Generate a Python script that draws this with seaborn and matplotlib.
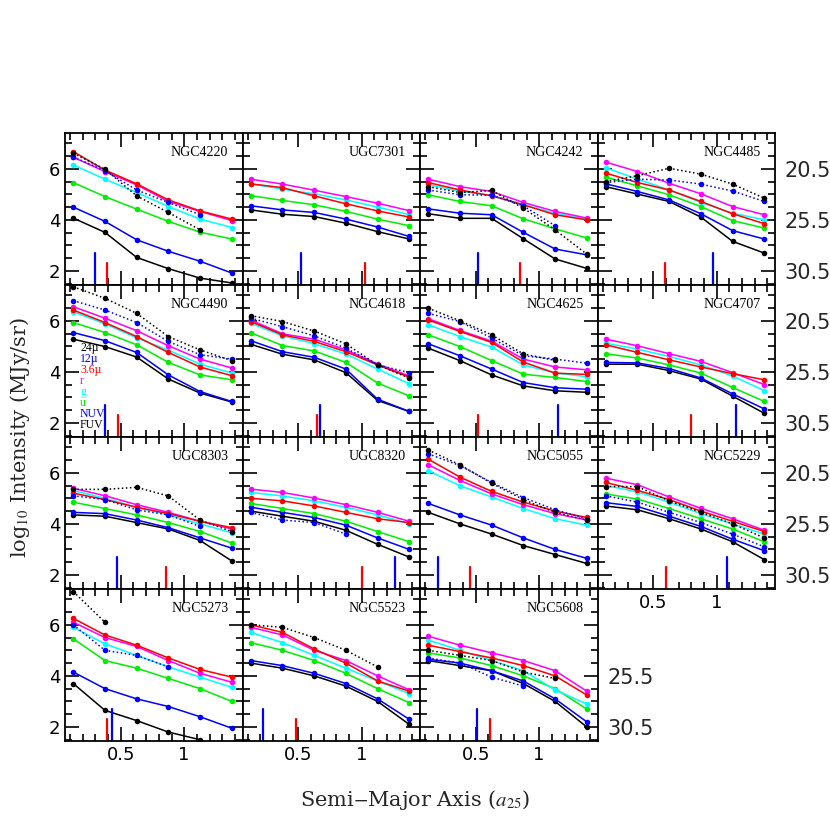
import numpy as np
import matplotlib
matplotlib.use("Agg")
import matplotlib.pyplot as plt
import seaborn as sns
import pandas as pd
from matplotlib.ticker import MultipleLocator

nan = np.nan

# radial bins (units of a25)
radii = [0.125, 0.375, 0.625, 0.875, 1.125, 1.375]

bands = ["24µ", "12µ", "3.6µ", "r", "g", "u", "NUV", "FUV"]
band_colors = ["black", "blue", "red", "magenta", "cyan", "#00ee00", "blue", "black"]
band_styles = [":", ":", "-", "-", "-", "-", "-", "-"]

galaxies = ["NGC4220", "UGC7301", "NGC4242", "NGC4485",
            "NGC4490", "NGC4618", "NGC4625", "NGC4707",
            "UGC8303", "UGC8320", "NGC5055", "NGC5229",
            "NGC5273", "NGC5523", "NGC5608"]

# profile rows follow the order of `bands`
ngc4220 = [[6.61, 5.98, 4.94, 4.29, 3.61, nan],
           [6.47, 5.92, 5.17, 4.68, 4.20, nan],
           [6.67, 5.95, 5.41, 4.78, 4.35, 4.03],
           [6.45, 5.89, 5.37, 4.72, 4.33, 3.97],
           [6.15, 5.59, 5.07, 4.52, 4.03, 3.70],
           [5.46, 4.91, 4.42, 3.94, 3.52, 3.25],
           [4.50, 3.94, 3.22, 2.77, 2.38, 1.92],
           [4.07, 3.51, 2.53, 2.09, 1.72, 1.53]]
ugc7301 = [[nan] * 6,
           [nan] * 6,
           [5.41, 5.26, 4.94, 4.63, 4.35, 4.11],
           [5.59, 5.40, 5.16, 4.91, 4.65, 4.36],
           [5.41, 5.20, 5.02, 4.78, 4.50, 4.20],
           [4.95, 4.76, 4.59, 4.33, 4.03, 3.77],
           [4.55, 4.39, 4.29, 4.03, 3.72, 3.35],
           [4.39, 4.22, 4.13, 3.87, 3.54, 3.25]]
ngc4242 = [[5.30, 5.07, 5.15, 4.46, 3.61, 2.66],
           [5.17, 4.98, 4.97, 4.55, 3.77, nan],
           [5.46, 5.17, 4.94, 4.59, 4.20, 4.00],
           [5.59, 5.30, 5.11, 4.68, 4.33, 4.07],
           [5.38, 5.12, 4.95, 4.60, 4.25, 4.02],
           [4.98, 4.72, 4.55, 4.04, 3.65, 3.29],
           [4.43, 4.26, 4.20, 3.51, 2.86, 2.63],
           [4.24, 4.06, 4.06, 3.26, 2.47, 2.10]]
ngc4485 = [[5.50, 5.73, 6.02, 5.79, 5.40, 4.85],
           [5.46, 5.59, 5.56, 5.40, 5.13, 4.72],
           [5.83, 5.46, 5.17, 4.72, 4.24, 3.85],
           [6.26, 5.89, 5.43, 5.02, 4.52, 4.20],
           [6.04, 5.59, 5.17, 4.68, 4.26, 4.00],
           [5.67, 5.33, 4.98, 4.52, 3.97, 3.68],
           [5.41, 5.11, 4.78, 4.24, 3.58, 3.25],
           [5.30, 5.01, 4.72, 4.11, 3.16, 2.70]]
ngc4490 = [[7.33, 6.88, 6.29, 5.38, 4.86, 4.44],
           [6.79, 6.42, 5.93, 5.19, 4.67, 4.50],
           [6.42, 5.93, 5.38, 4.76, 4.19, 3.85],
           [6.55, 6.10, 5.61, 5.02, 4.50, 4.15],
           [6.35, 5.88, 5.33, 4.85, 4.30, 3.95],
           [5.93, 5.54, 5.06, 4.37, 3.88, 3.69],
           [5.54, 5.22, 4.76, 3.88, 3.23, 2.84],
           [5.28, 4.99, 4.58, 3.72, 3.17, 2.82]]
ngc4618 = [[6.20, 5.97, 5.60, 5.10, 4.27, 3.76],
           [6.10, 5.77, 5.41, 4.93, 4.27, 3.97],
           [5.97, 5.45, 5.19, 4.79, 4.27, 3.79],
           [6.03, 5.49, 5.28, 4.86, 4.31, 3.84],
           [5.90, 5.41, 5.10, 4.70, 4.11, 3.53],
           [5.53, 5.03, 4.82, 4.37, 3.56, 3.06],
           [5.22, 4.79, 4.57, 4.11, 2.93, 2.45],
           [5.08, 4.69, 4.47, 3.97, 2.88, 2.45]]
ngc4625 = [[6.49, 6.00, 5.45, 4.70, 4.45, nan],
           [6.29, 5.97, 5.32, 4.63, 4.50, 4.34],
           [6.03, 5.58, 5.15, 4.38, 3.95, 3.90],
           [6.08, 5.62, 5.20, 4.50, 4.19, 4.08],
           [5.84, 5.38, 4.97, 4.27, 3.96, 3.81],
           [5.45, 4.99, 4.44, 3.91, 3.78, 3.62],
           [5.10, 4.63, 4.11, 3.58, 3.38, 3.32],
           [4.93, 4.44, 3.88, 3.45, 3.26, 3.20]]
ngc4707 = [[nan] * 6,
           [nan] * 6,
           [5.06, 4.76, 4.47, 4.19, 3.93, 3.69],
           [5.28, 5.02, 4.71, 4.41, 3.97, 3.50],
           [5.12, 4.89, 4.60, 4.27, 3.84, 3.26],
           [4.71, 4.54, 4.27, 3.95, 3.39, 2.84],
           [4.37, 4.35, 4.13, 3.76, 3.14, 2.55],
           [4.30, 4.30, 4.05, 3.72, 3.05, 2.38]]
ugc8303 = [[5.35, 5.35, 5.43, 5.09, 4.15, 3.70],
           [5.10, 4.95, 4.55, 4.35, 3.90, nan],
           [5.20, 4.95, 4.65, 4.40, 4.10, 3.85],
           [5.39, 5.10, 4.75, 4.45, 4.10, 3.80],
           [5.30, 5.00, 4.65, 4.35, 4.00, 3.65],
           [4.85, 4.60, 4.35, 4.05, 3.70, 3.25],
           [4.45, 4.40, 4.15, 3.85, 3.45, 3.05],
           [4.35, 4.30, 4.05, 3.80, 3.35, 2.55]]
ugc8320 = [[nan] * 6,
           [4.45, 4.15, 4.05, 3.60, nan, nan],
           [5.00, 4.90, 4.70, 4.45, 4.20, 4.05],
           [5.36, 5.23, 5.01, 4.75, 4.45, 4.10],
           [5.23, 5.09, 4.90, 4.65, 4.35, 4.00],
           [4.80, 4.60, 4.40, 4.10, 3.70, 3.30],
           [4.65, 4.45, 4.25, 3.95, 3.45, 3.00],
           [4.50, 4.30, 4.10, 3.75, 3.20, 2.70]]
ngc5055 = [[6.89, 6.31, 5.59, 4.95, 4.45, 4.15],
           [6.74, 6.28, 5.62, 5.03, 4.55, 4.20],
           [6.53, 5.83, 5.27, 4.85, 4.50, 4.25],
           [6.31, 5.70, 5.17, 4.75, 4.40, 4.15],
           [6.08, 5.49, 5.05, 4.60, 4.20, 3.95],
           [nan] * 6,
           [4.80, 4.35, 3.95, 3.45, 3.00, 2.65],
           [4.45, 4.00, 3.60, 3.15, 2.80, 2.45]]
ngc5229 = [[5.46, 5.46, 4.90, 4.45, 4.00, 3.45],
           [5.10, 4.85, 4.45, 4.05, 3.60, 3.10],
           [5.62, 5.31, 4.95, 4.50, 4.10, 3.70],
           [5.79, 5.53, 5.05, 4.61, 4.20, 3.75],
           [5.50, 5.25, 4.85, 4.40, 4.00, 3.60],
           [5.17, 4.97, 4.60, 4.20, 3.80, 3.30],
           [4.83, 4.68, 4.30, 3.90, 3.40, 2.95],
           [4.70, 4.55, 4.20, 3.80, 3.30, 2.60]]
ngc5273 = [[7.30, 6.10, nan, nan, nan, nan],
           [6.00, 5.00, 4.80, 4.35, nan, nan],
           [6.25, 5.60, 5.20, 4.70, 4.25, 3.95],
           [6.10, 5.50, 5.15, 4.60, 4.10, 3.75],
           [5.90, 5.25, 4.80, 4.35, 3.95, 3.55],
           [5.45, 4.60, 4.30, 3.90, 3.50, 3.00],
           [4.15, 3.50, 3.10, 2.80, 2.40, 1.95],
           [3.70, 2.65, 2.25, 1.80, 1.50, nan]]
ngc5523 = [[6.00, 5.90, 5.50, 5.00, 4.35, nan],
           [nan] * 6,
           [6.00, 5.70, 5.05, 4.50, 3.80, 3.40],
           [5.90, 5.60, 5.00, 4.60, 4.00, 3.45],
           [5.70, 5.30, 4.80, 4.30, 3.80, 3.30],
           [5.30, 5.00, 4.60, 4.10, 3.50, 2.95],
           [4.60, 4.40, 4.10, 3.70, 3.10, 2.30],
           [4.50, 4.30, 4.00, 3.60, 3.00, 2.10]]
ngc5608 = [[5.00, 4.80, 4.60, 4.15, 3.90, nan],
           [4.70, 4.50, 3.95, 3.60, nan, nan],
           [5.20, 4.95, 4.70, 4.40, 4.00, 3.25],
           [5.55, 5.20, 4.90, 4.60, 4.20, 3.40],
           [5.40, 5.00, 4.60, 4.20, 3.45, 2.90],
           [4.90, 4.70, 4.40, 4.00, 3.50, 2.70],
           [4.65, 4.50, 4.20, 3.80, 3.10, 2.20],
           [4.60, 4.40, 4.20, 3.70, 3.00, 2.00]]

profiles = [ngc4220, ugc7301, ngc4242, ngc4485, ngc4490, ngc4618, ngc4625, ngc4707,
            ugc8303, ugc8320, ngc5055, ngc5229, ngc5273, ngc5523, ngc5608]

# radii of the blue (NUV) and red (3.6µ) markers along the bottom axis
nuv_mark = [0.298, 0.52, 0.52, 0.97, 0.377, 0.675, 1.148, 1.15,
            0.47, 1.26, 0.20, 1.08, 0.43, 0.22, 0.51]
irac_mark = [0.39, 1.03, 0.85, 0.59, 0.48, 0.65, 0.518, 0.80,
             0.86, 1.00, 0.455, 0.60, 0.39, 0.48, 0.61]


def to_mag(y):
    return 20.5 + (6.0 - y) * 2.5


def to_log(m):
    return 6.0 - (m - 20.5) / 2.5


sns.set_theme(style="ticks")
plt.rcParams['font.family'] = ['Liberation Serif', 'DejaVu Serif']
plt.rcParams['mathtext.fontset'] = 'stix'

fig = plt.figure(figsize=(8.3, 8.3), dpi=100)
W, H = 830.0, 830.0
x0, pw = 65.0, 177.5
y0, ph = 133.0, 152.0
xlim = (0.06, 1.46)
ylim = (1.45, 7.40)

for i, (name, prof) in enumerate(zip(galaxies, profiles)):
    row, col = divmod(i, 4)
    ax = fig.add_axes([(x0 + col * pw) / W, 1 - (y0 + (row + 1) * ph) / H, pw / W, ph / H])
    ax.set_facecolor("white")

    rows = []
    for b, vals in zip(bands, prof):
        for r, v in zip(radii, vals):
            if not np.isnan(v):
                rows.append({"band": b, "radius": r, "logI": v})
    df = pd.DataFrame(rows)

    for b, c, ls in reversed(list(zip(bands, band_colors, band_styles))):
        sub = df[df["band"] == b]
        if sub.empty:
            continue
        sns.lineplot(data=sub, x="radius", y="logI", color=c, linestyle=ls, lw=1.1,
                     marker="o", markersize=4, markeredgewidth=0, ax=ax,
                     legend=False, errorbar=None, sort=False)

    ax.axvline(nuv_mark[i], ymin=0, ymax=0.21, color="blue", lw=1.6)
    ax.axvline(irac_mark[i], ymin=0, ymax=0.145, color="red", lw=1.6)

    ax.set_xlim(*xlim)
    ax.set_ylim(*ylim)
    ax.set_xlabel("")
    ax.set_ylabel("")
    ax.xaxis.set_major_locator(MultipleLocator(0.5))
    ax.xaxis.set_minor_locator(MultipleLocator(0.1))
    ax.yaxis.set_major_locator(MultipleLocator(2))
    ax.yaxis.set_minor_locator(MultipleLocator(0.5))
    ax.tick_params(which="both", direction="in", top=True, right=True, width=1.2,
                   colors="black", labelsize=13, labelcolor="black")
    ax.tick_params(which="major", length=10)
    ax.tick_params(which="minor", length=5)
    for sp in ax.spines.values():
        sp.set_linewidth(1.3)
        sp.set_color("black")

    show_x = row == 3 or (row == 2 and col == 3)
    ax.tick_params(labelbottom=show_x, labelleft=(col == 0))
    if show_x:
        ax.set_xticks([0.5, 1.0])
        ax.set_xticklabels(["0.5", "1"], family="DejaVu Sans")
    if col == 0:
        ax.set_yticks([2, 4, 6])
        ax.set_yticklabels(["2", "4", "6"], family="DejaVu Sans")

    if col == 3 or (row == 3 and col == 2):
        sec = ax.secondary_yaxis("right", functions=(to_mag, to_log))
        ticks = [20.5, 25.5, 30.5] if row < 3 else [25.5, 30.5]
        sec.set_yticks(ticks)
        sec.set_yticklabels([f"{t:.1f}" for t in ticks], family="DejaVu Sans")
        sec.tick_params(length=0, pad=7, labelsize=15)
        sec.spines["right"].set_visible(False)

    ax.text(0.92, 0.875, name, transform=ax.transAxes, ha="right", va="center",
            fontsize=10, color="black")

    if name == "NGC4490":
        leg_text = ["24µ", "12µ", "3.6µ", "r", "g", "u", "NUV", "FUV"]
        for k, (t, c) in enumerate(zip(leg_text, band_colors)):
            ax.text(0.085, 0.586 - k * 0.072, t, transform=ax.transAxes, ha="left",
                    va="center", fontsize=8.5, color=c)

fig.text(0.5, 1 - 800 / H, "Semi$-$Major Axis ($a_{25}$)", ha="center", va="center",
         fontsize=15, family="DejaVu Serif")
fig.text(20 / W, 1 - 437 / H, "log$_{10}$ Intensity (MJy/sr)", ha="center", va="center",
         rotation=90, fontsize=15, family="DejaVu Serif")

fig.savefig("out.png", dpi=100, facecolor="white")
